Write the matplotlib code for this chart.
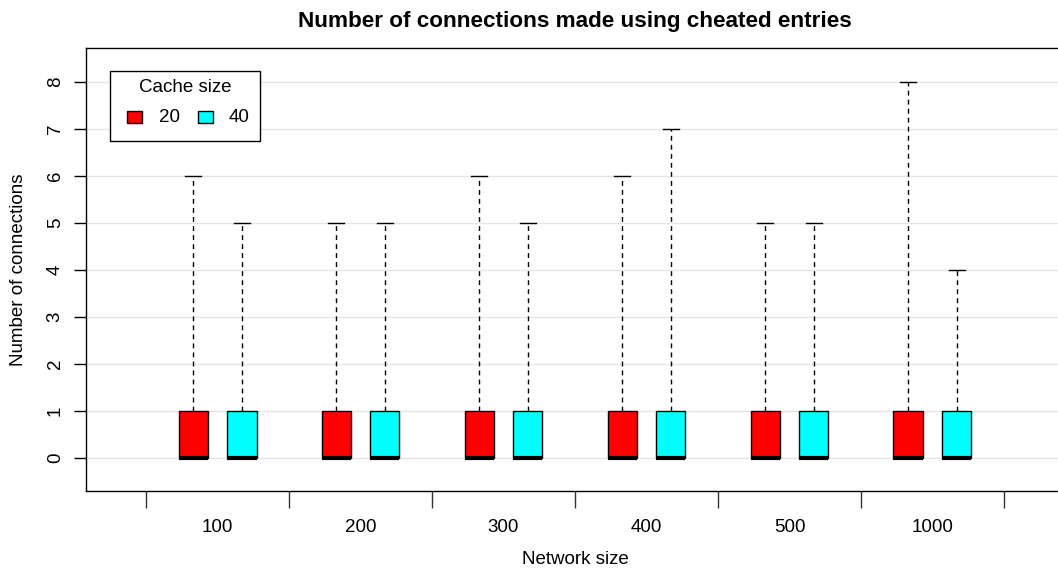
import matplotlib
matplotlib.use("Agg")
import matplotlib.pyplot as plt
from matplotlib.patches import Rectangle

plt.rcParams['font.family'] = ['Liberation Sans', 'DejaVu Sans']

network_sizes = ["100", "200", "300", "400", "500", "1000"]
cache_sizes = ["20", "40"]
colors = ["#FF0000", "#00FFFF"]

# per-cache summary statistics for each network size
whisker_low = {"20": [0, 0, 0, 0, 0, 0], "40": [0, 0, 0, 0, 0, 0]}
lower_quartile = {"20": [0, 0, 0, 0, 0, 0], "40": [0, 0, 0, 0, 0, 0]}
medians = {"20": [0, 0, 0, 0, 0, 0], "40": [0, 0, 0, 0, 0, 0]}
upper_quartile = {"20": [1, 1, 1, 1, 1, 1], "40": [1, 1, 1, 1, 1, 1]}
whisker_high = {"20": [6, 5, 6, 6, 5, 8], "40": [5, 5, 5, 7, 5, 4]}

FS = 13.5

W, H = 1058, 572
fig = plt.figure(figsize=(W / 100, H / 100), dpi=100)
ax_l, ax_r, ax_t, ax_b = 86, 1064, 48, 491
ax = fig.add_axes([ax_l / W, 1 - ax_b / H, (ax_r - ax_l) / W, (ax_b - ax_t) / H])


def px(x, y):
    """Pixel position on the canvas -> axes fraction."""
    return (x - ax_l) / (ax_r - ax_l), (ax_b - y) / (ax_b - ax_t)


offsets = [-0.17, 0.17]
box_w = 0.205
for ci, cs in enumerate(cache_sizes):
    stats = []
    for gi in range(len(network_sizes)):
        stats.append(dict(
            whislo=whisker_low[cs][gi], q1=lower_quartile[cs][gi],
            med=medians[cs][gi], q3=upper_quartile[cs][gi],
            whishi=whisker_high[cs][gi], fliers=[]))
    pos = [gi + 1 + offsets[ci] for gi in range(len(network_sizes))]
    ax.bxp(stats, positions=pos, widths=box_w, patch_artist=True,
           showfliers=False, manage_ticks=False,
           boxprops=dict(facecolor=colors[ci], edgecolor="black", linewidth=1),
           medianprops=dict(color="black", linewidth=3, solid_capstyle="butt"),
           whiskerprops=dict(color="black", linewidth=1, linestyle=(0, (3.5, 3))),
           capprops=dict(color="black", linewidth=1),
           capwidths=box_w * 0.55, zorder=3)

# horizontal grid
for y in range(0, 9):
    ax.axhline(y, color="#E6E6E6", linewidth=1, zorder=0)

ax.set_xlim(0.08, 6.92)
ax.set_ylim(-0.70, 8.72)

ax.set_yticks(range(0, 9))
ax.set_yticklabels([str(v) for v in range(0, 9)], rotation=90, va="center", fontsize=FS)
ax.tick_params(axis="y", length=9, width=1, pad=7)

# group boundary ticks without labels, names at group centres
bounds = [g + 0.5 for g in range(0, len(network_sizes) + 1)]
ax.set_xticks(bounds)
ax.set_xticklabels([""] * len(bounds))
ax.tick_params(axis="x", length=12, width=1, color="#333333")
label_y = px(0, 527)[1]
for gi, name in enumerate(network_sizes):
    ax.text(gi + 1, label_y, name, transform=ax.get_xaxis_transform(),
            ha="center", va="center", fontsize=FS)

for sp in ax.spines.values():
    sp.set_linewidth(1)

fig.text((ax_l + ax_r) / 2 / W, 1 - 27 / H,
         "Number of connections made using cheated entries",
         ha="center", va="baseline", fontsize=16.2, fontweight="bold")

ax.set_xlabel("Network size", fontsize=FS)
ax.xaxis.set_label_coords(*px((ax_l + ax_r) / 2, 560))
ax.xaxis.label.set_va("center")
ax.set_ylabel("Number of connections", fontsize=FS)
ax.yaxis.set_label_coords(*px(19, 270))
ax.yaxis.label.set_va("center")

# legend box
x0, y0 = px(110, 141)
x1, y1 = px(260, 71)
ax.add_patch(Rectangle((x0, y0), x1 - x0, y1 - y0, transform=ax.transAxes,
                       facecolor="white", edgecolor="black", linewidth=1, zorder=5))
ax.text(*px(185, 88), "Cache size", transform=ax.transAxes,
        ha="center", va="center", fontsize=FS, zorder=6)
for (sx, tx), c, lab in zip([(127, 159), (198, 229)], colors, cache_sizes):
    a0, b0 = px(sx, 123)
    a1, b1 = px(sx + 15, 111)
    ax.add_patch(Rectangle((a0, b0), a1 - a0, b1 - b0, transform=ax.transAxes,
                           facecolor=c, edgecolor="black", linewidth=1, zorder=6))
    ax.text(*px(tx, 117), lab, transform=ax.transAxes,
            ha="left", va="center", fontsize=FS, zorder=6)

fig.savefig("out.png", dpi=100)
